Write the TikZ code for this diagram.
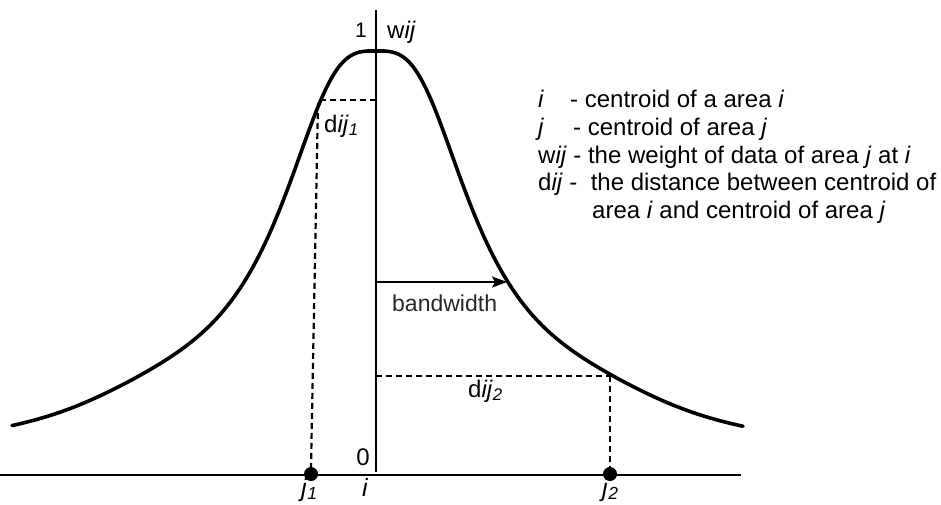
\documentclass[tikz,border=0pt]{standalone}
\usepackage{fontspec}
\setmainfont{Liberation Sans}
\usetikzlibrary{arrows.meta}
\begin{document}
\begin{tikzpicture}[x=1pt,y=-1pt,
  lbl/.style={inner sep=0pt, font=\fontsize{24}{28}\selectfont},
  axlbl/.style={inner sep=0pt, font=\fontsize{25}{29}\selectfont},
  curveline/.style={line width=3.6pt, line cap=round, line join=round},
  axisline/.style={line width=2pt},
  dashline/.style={line width=2.2pt, dash pattern=on 6pt off 4pt},
  dotnode/.style={circle, fill=black, inner sep=0pt, minimum size=14pt}]
\useasboundingbox (0,0) rectangle (941,504);

% axes
\coordinate (ytop) at (376,10);
\coordinate (ybot) at (376,472);
\coordinate (xl) at (0,475);
\coordinate (xr) at (741,475);
\draw[axisline] (xl) -- (xr);
\draw[axisline] (ytop) -- (ybot);

% kernel curve
\draw[curveline] plot[domain=-364:367, samples=241, smooth]
  ({376+\x}, {475-424*( (1+((abs(\x)+0.01)/78.3)^3.2)^(-0.44)
     + 0.027*exp(-((abs(\x)-220)/90)^2) )});

% dots
\node[dotnode] (j1dot) at (311,474) {};
\node[dotnode] (j2dot) at (610,474) {};

% dashed guides
\coordinate (c1) at (320,100);
\coordinate (a1) at (376,100);
\coordinate (c1v) at (318,103);
\draw[dashline] (c1) -- (a1);
\draw[dashline] (c1v) -- (j1dot.north);
\coordinate (c2) at (610,376);
\coordinate (a2) at (376,376);
\draw[dashline] (a2) -- (c2);
\draw[dashline] (c2) -- (j2dot.north);

% bandwidth arrow
\coordinate (bw0) at (376,282);
\coordinate (bw1) at (507,282);
\draw[line width=2pt, -{Stealth[length=15pt,width=11pt,inset=3pt]}] (bw0) -- (bw1);
\node[lbl, anchor=base west, font=\fontsize{23}{27}\selectfont, text=black!85] (bw) at (392,311) {bandwidth};

% axis labels
\node[lbl, anchor=base east, font=\fontsize{21}{25}\selectfont] (one) at (367,37) {1};
\node[lbl, anchor=base west] (wij) at (387,38) {w\textit{ij}};
\node[lbl, anchor=base east] (zero) at (370,465) {0};
\node[lbl, anchor=base west] (dij1) at (324,132) {d\textit{ij}\textsubscript{\textit{1}}};
\node[lbl, anchor=base west] (dij2) at (468,397) {d\textit{ij}\textsubscript{\textit{2}}};
\node[axlbl, anchor=base west] (lj1) at (301,496) {\textit{j}\textsubscript{\textit{1}}};
\node[axlbl, anchor=base west] (li) at (362,496) {\textit{i}};
\node[axlbl, anchor=base west] (lj2) at (602,496) {\textit{j}\textsubscript{\textit{2}}};

% legend
\node[lbl, anchor=base west] (k1) at (538,107) {\textit{i}};
\node[lbl, anchor=base west] (d1) at (570,107) {- centroid of a area \textit{i}};
\node[lbl, anchor=base west] (k2) at (538,135) {\textit{j}};
\node[lbl, anchor=base west] (d2) at (573,135) {- centroid of area \textit{j}};
\node[lbl, anchor=base west] (d3) at (538,163) {w\textit{ij} - the weight of data of area \textit{j} at \textit{i}};
\node[lbl, anchor=base west] (d4) at (538,190) {d\textit{ij} -\ \ the distance between centroid of};
\node[lbl, anchor=base west] (d5) at (592,218) {area \textit{i} and centroid of area \textit{j}};
\end{tikzpicture}
\end{document}
